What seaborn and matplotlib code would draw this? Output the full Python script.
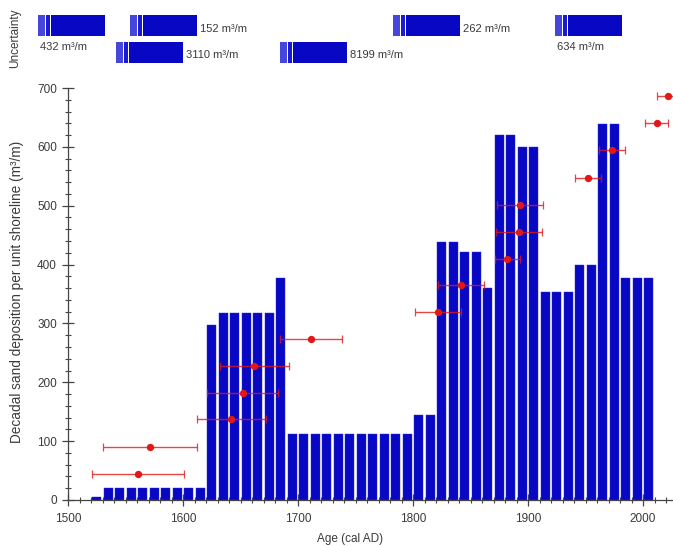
import matplotlib
matplotlib.use("Agg")
import matplotlib.pyplot as plt
import numpy as np
import pandas as pd
import seaborn as sns
from matplotlib.ticker import MultipleLocator

# ---------------- data ----------------
decades = [1520, 1530, 1540, 1550, 1560, 1570, 1580, 1590, 1600, 1610,
           1620, 1630, 1640, 1650, 1660, 1670, 1680,
           1690, 1700, 1710, 1720, 1730, 1740, 1750, 1760, 1770, 1780, 1790,
           1800, 1810, 1820, 1830, 1840, 1850, 1860, 1870, 1880, 1890, 1900,
           1910, 1920, 1930, 1940, 1950, 1960, 1970, 1980, 1990, 2000]
deposition = [5, 20, 20, 20, 20, 20, 20, 20, 20, 20,
              297, 318, 318, 318, 318, 318, 378,
              112, 112, 112, 112, 112, 112, 112, 112, 112, 112, 112,
              145, 145, 438, 438, 422, 422, 360, 620, 620, 600, 600,
              354, 354, 354, 400, 400, 638, 638, 378, 378, 378]

pt_age = [1561, 1571, 1642, 1652, 1662, 1711, 1822, 1842, 1882, 1892,
          1893, 1952, 1973, 2012, 2022]
pt_value = [45, 90, 137, 182, 228, 273, 319, 365, 410, 455,
            502, 547, 594, 640, 686]
pt_age_err = [40, 41, 30, 31, 30, 27, 20, 20, 11, 20,
              20, 11, 11, 10, 10]

unc_values = [432, 152, 262, 634, 3110, 8199]
unc_labels = [f"{v} m\u00b3/m" for v in unc_values]

# ---------------- layout (pixel positions in the top strip) ----------------
unc_left = [38, 130, 393, 555, 116, 280]
unc_row = [0, 0, 0, 0, 1, 1]
unc_label_pos = ["below", "right", "right", "below", "right", "right"]

W, H = 673, 546
BLUE = "#0808c4"
RED = "#e01818"
TXT = "#3a3a3a"

sns.set_style("ticks")
plt.rcParams["font.family"] = ["Liberation Sans", "DejaVu Sans"]

fig = plt.figure(figsize=(W / 100, H / 100), dpi=100)

# ---------------- main axes ----------------
ax = fig.add_axes([68 / W, 46 / H, (W - 68) / W, (500 - 88) / H])
df = pd.DataFrame({"age": [d + 5 for d in decades], "dep": deposition})
sns.barplot(data=df, x="age", y="dep", native_scale=True, width=0.8,
            color=BLUE, saturation=1, edgecolor="#2a2ad8", linewidth=0.3,
            ax=ax, zorder=2)

ax.errorbar(pt_age, pt_value, xerr=pt_age_err, fmt="none", ecolor=RED,
            elinewidth=1.0, capsize=3, capthick=0.9, zorder=3, alpha=0.8)
sns.scatterplot(x=pt_age, y=pt_value, color=RED, s=28, edgecolor=RED,
                linewidth=0, ax=ax, zorder=4)

ax.set_xlim(1500, 2026)
ax.set_ylim(0, 700)
ax.xaxis.set_major_locator(MultipleLocator(100))
ax.xaxis.set_minor_locator(MultipleLocator(10))
ax.yaxis.set_major_locator(MultipleLocator(100))
ax.yaxis.set_minor_locator(MultipleLocator(20))
ax.tick_params(which="major", direction="inout", length=8, width=0.9,
               color="#444444", labelsize=8.5, labelcolor=TXT)
ax.tick_params(axis="x", which="major", pad=5)
ax.tick_params(axis="y", which="major", pad=4)
ax.tick_params(which="minor", direction="inout", length=5, width=0.8,
               color="#444444")
for s in ["top", "right"]:
    ax.spines[s].set_visible(False)
for s in ["left", "bottom"]:
    ax.spines[s].set_color("#444444")
    ax.spines[s].set_linewidth(0.9)

ax.set_xlabel("Age (cal AD)", fontsize=8.5, color=TXT)
ax.xaxis.set_label_coords((350 - 68) / (W - 68), -33 / (500 - 88))
ax.set_ylabel("Decadal sand deposition per unit shoreline (m\u00b3/m)",
              fontsize=9.8, color=TXT)
ax.yaxis.set_label_coords(-44 / (W - 68), 0.505)

# ---------------- uncertainty strip ----------------
axu = fig.add_axes([0, 1 - 75 / H, 1, 75 / H])
axu.set_xlim(0, W)
axu.set_ylim(75, 0)
axu.axis("off")

row_y = [25.5, 52.5]
bar_h = 21
bar_w = 67
seg_w = [7, 1.2, 4, 1.2, bar_w - 13.4]
seg_c = ["#4646dc", "white", "#1a1ad0", "white", BLUE]
for left, row, lab, pos in zip(unc_left, unc_row, unc_labels, unc_label_pos):
    yc = row_y[row]
    x0 = left
    for w, c in zip(seg_w, seg_c):
        axu.barh(yc, w, left=x0, height=bar_h, color=c, linewidth=0)
        x0 += w
    if pos == "below":
        axu.text(left + 2, yc + 21, lab, fontsize=8, color=TXT,
                 ha="left", va="center")
    else:
        axu.text(left + bar_w + 3, yc + 3, lab, fontsize=8, color=TXT,
                 ha="left", va="center")

fig.text(15 / W, 1 - 38 / H, "Uncertainty", rotation=90, fontsize=8.5,
         color=TXT, ha="center", va="center")

fig.savefig("out.png", dpi=100)
